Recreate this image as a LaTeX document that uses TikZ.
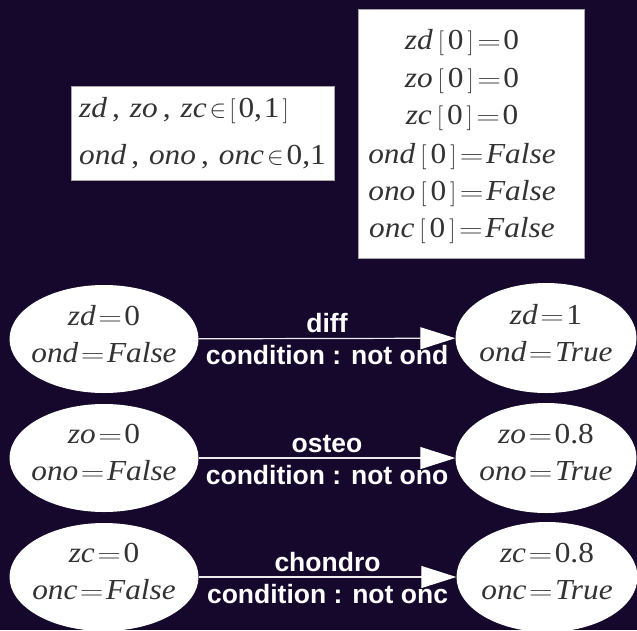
\documentclass[tikz,border=0pt]{standalone}
\usepackage{fontspec}
\usepackage{graphicx}
\setmainfont{Liberation Serif}[FakeStretch=1.08]
\newfontfamily\labfont{Liberation Sans}
\usetikzlibrary{arrows.meta,shapes.geometric}
\definecolor{bg}{RGB}{21,8,44}
\definecolor{ink}{RGB}{51,51,51}
\newcommand\iv[1]{\textit{#1}}
\newcommand\eqs{\hspace{2.5pt}\scalebox{1.32}[1]{$=$}\hspace{2.5pt}}
\newcommand\lbr{\hspace{5pt}$[$\hspace{4pt}}
\newcommand\rbr{\hspace{4pt}$]$\hspace{1pt}}
\newcommand\cm{\hspace{5pt},\hspace{10pt}}
\newcommand\elem{\hspace{3pt}$\in$\hspace{3pt}}
\begin{document}
\begin{tikzpicture}[x=1pt,y=-1pt,
  mathtxt/.style={text=ink,font=\fontsize{29}{37}\selectfont,inner sep=0pt},
  boxstyle/.style={draw=gray!70,fill=white,line width=0.8pt,inner sep=0pt},
  state/.style={ellipse,fill=white,draw=none,inner xsep=-25pt,inner ysep=0pt,align=center,text=ink,
    font=\fontsize{29}{37}\selectfont,text depth=11pt},
  lstate/.style={state,minimum width=189pt,minimum height=108pt},
  rstate/.style={state,minimum width=181pt,minimum height=110pt},
  conn/.style={draw=white!85!gray,line width=1.2pt,-{Triangle[length=35pt,width=22pt,color=white]}},
  lab/.style={anchor=base,text=white,inner sep=0pt,font=\fontsize{26.5}{30}\labfont\bfseries},
  toplab/.style={lab,yshift=6pt},
  botlab/.style={lab,yshift=-26pt}
]
\fill[bg] (0,0) rectangle (637,630);
\useasboundingbox (0,0) rectangle (637,630);
\clip (0,0) rectangle (637,630);

% domain box
\node[boxstyle,minimum width=263pt,minimum height=94pt] (dom) at (202.5,133) {};
\node[mathtxt,anchor=base west] (dom1) at (79,117) {\iv{zd}\cm\iv{zo}\cm\iv{zc}\elem$\bigl[$\hspace{3pt}0,\hspace{2pt}1\hspace{3pt}$\bigr]$};
\node[mathtxt,anchor=base west] (dom2) at (79,164) {\iv{ond}\cm\iv{ono}\cm\iv{onc}\elem0,1};

% initial values box
\node[boxstyle,minimum width=226pt,minimum height=249pt] (init) at (471,133.5) {};
\node[mathtxt,anchor=base] (i1) at (462,49) {\iv{zd}\lbr 0\rbr\eqs 0};
\node[mathtxt,anchor=base] (i2) at (462,87) {\iv{zo}\lbr 0\rbr\eqs 0};
\node[mathtxt,anchor=base] (i3) at (462,124) {\iv{zc}\lbr 0\rbr\eqs 0};
\node[mathtxt,anchor=base] (i4) at (462,163) {\iv{ond}\lbr 0\rbr\eqs\iv{False}};
\node[mathtxt,anchor=base] (i5) at (462,200) {\iv{ono}\lbr 0\rbr\eqs\iv{False}};
\node[mathtxt,anchor=base] (i6) at (462,237) {\iv{onc}\lbr 0\rbr\eqs\iv{False}};

% states
\node[lstate] (d0) at (104,339) {\iv{zd}\eqs 0\\\iv{ond}\eqs\iv{False}};
\node[rstate] (d1) at (546,338) {\iv{zd}\eqs 1\\\iv{ond}\eqs\iv{True}};
\node[lstate] (o0) at (104,458) {\iv{zo}\eqs 0\\\iv{ono}\eqs\iv{False}};
\node[rstate] (o1) at (546,458) {\iv{zo}\eqs 0.8\\\iv{ono}\eqs\iv{True}};
\node[lstate] (c0) at (104,577) {\iv{zc}\eqs 0\\\iv{onc}\eqs\iv{False}};
\node[rstate] (c1) at (547,577) {\iv{zc}\eqs 0.8\\\iv{onc}\eqs\iv{True}};

% transitions
\draw[conn] (d0) -- node[toplab]{diff} node[botlab]{condition : not ond} (d1);
\draw[conn] (o0) -- node[toplab]{osteo} node[botlab]{condition : not ono} (o1);
\draw[conn] (c0) -- node[toplab]{chondro} node[botlab]{condition : not onc} (c1);
\end{tikzpicture}
\end{document}
